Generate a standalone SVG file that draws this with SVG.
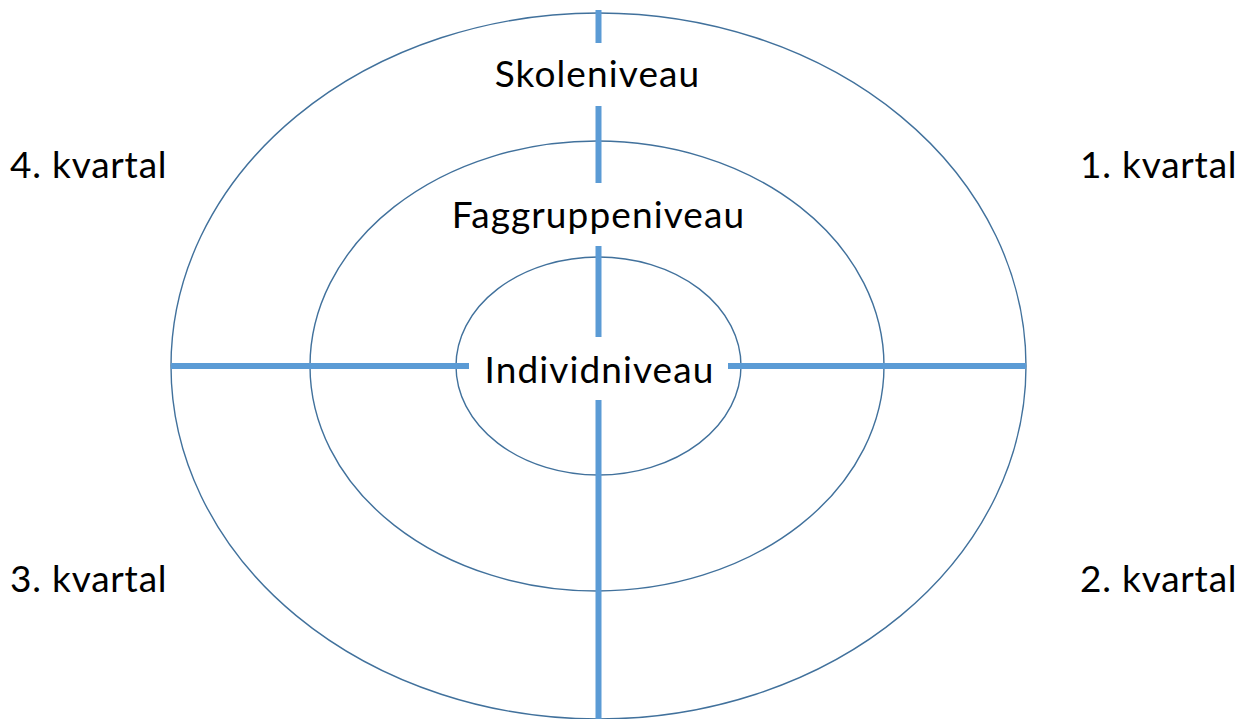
<svg xmlns="http://www.w3.org/2000/svg" width="1247" height="719" viewBox="0 0 1247 719">
<style>
.ring{fill:none;stroke:#41719C;stroke-width:1.4}
.axis{stroke:#5B9BD5;stroke-width:6;fill:none}
text{font-family:Lato,"Liberation Sans",sans-serif;font-size:37px;letter-spacing:1.1px;fill:#000}
.c{text-anchor:middle}
.q{letter-spacing:0.8px}
</style>
<rect width="1247" height="719" fill="#fff"/>
<g id="outer"><ellipse class="ring" cx="598.5" cy="366" rx="427.5" ry="353"/></g>
<g id="middle"><ellipse class="ring" cx="597" cy="366" rx="287" ry="225"/></g>
<g id="inner"><ellipse class="ring" cx="598.5" cy="366" rx="142.5" ry="109"/></g>
<g id="connectors">
<line class="axis" x1="598.5" y1="10" x2="598.5" y2="43"/>
<line class="axis" x1="598.5" y1="106" x2="598.5" y2="183"/>
<line class="axis" x1="598.5" y1="246" x2="598.5" y2="337"/>
<line class="axis" x1="598.5" y1="400" x2="598.5" y2="719"/>
<line class="axis" x1="171" y1="366" x2="469" y2="366"/>
<line class="axis" x1="728" y1="366" x2="1026" y2="366"/>
</g>
<g id="skoleniveau"><text class="c" x="597.5" y="87">Skoleniveau</text></g>
<g id="faggruppeniveau"><text class="c" x="598.5" y="228">Faggruppeniveau</text></g>
<g id="individniveau"><text class="c" x="599.5" y="383">Individniveau</text></g>
<g id="q4"><text class="q" x="10" y="178">4. kvartal</text></g>
<g id="q1"><text class="q" x="1080" y="178">1. kvartal</text></g>
<g id="q3"><text class="q" x="10" y="592">3. kvartal</text></g>
<g id="q2"><text class="q" x="1080" y="592">2. kvartal</text></g>
</svg>
